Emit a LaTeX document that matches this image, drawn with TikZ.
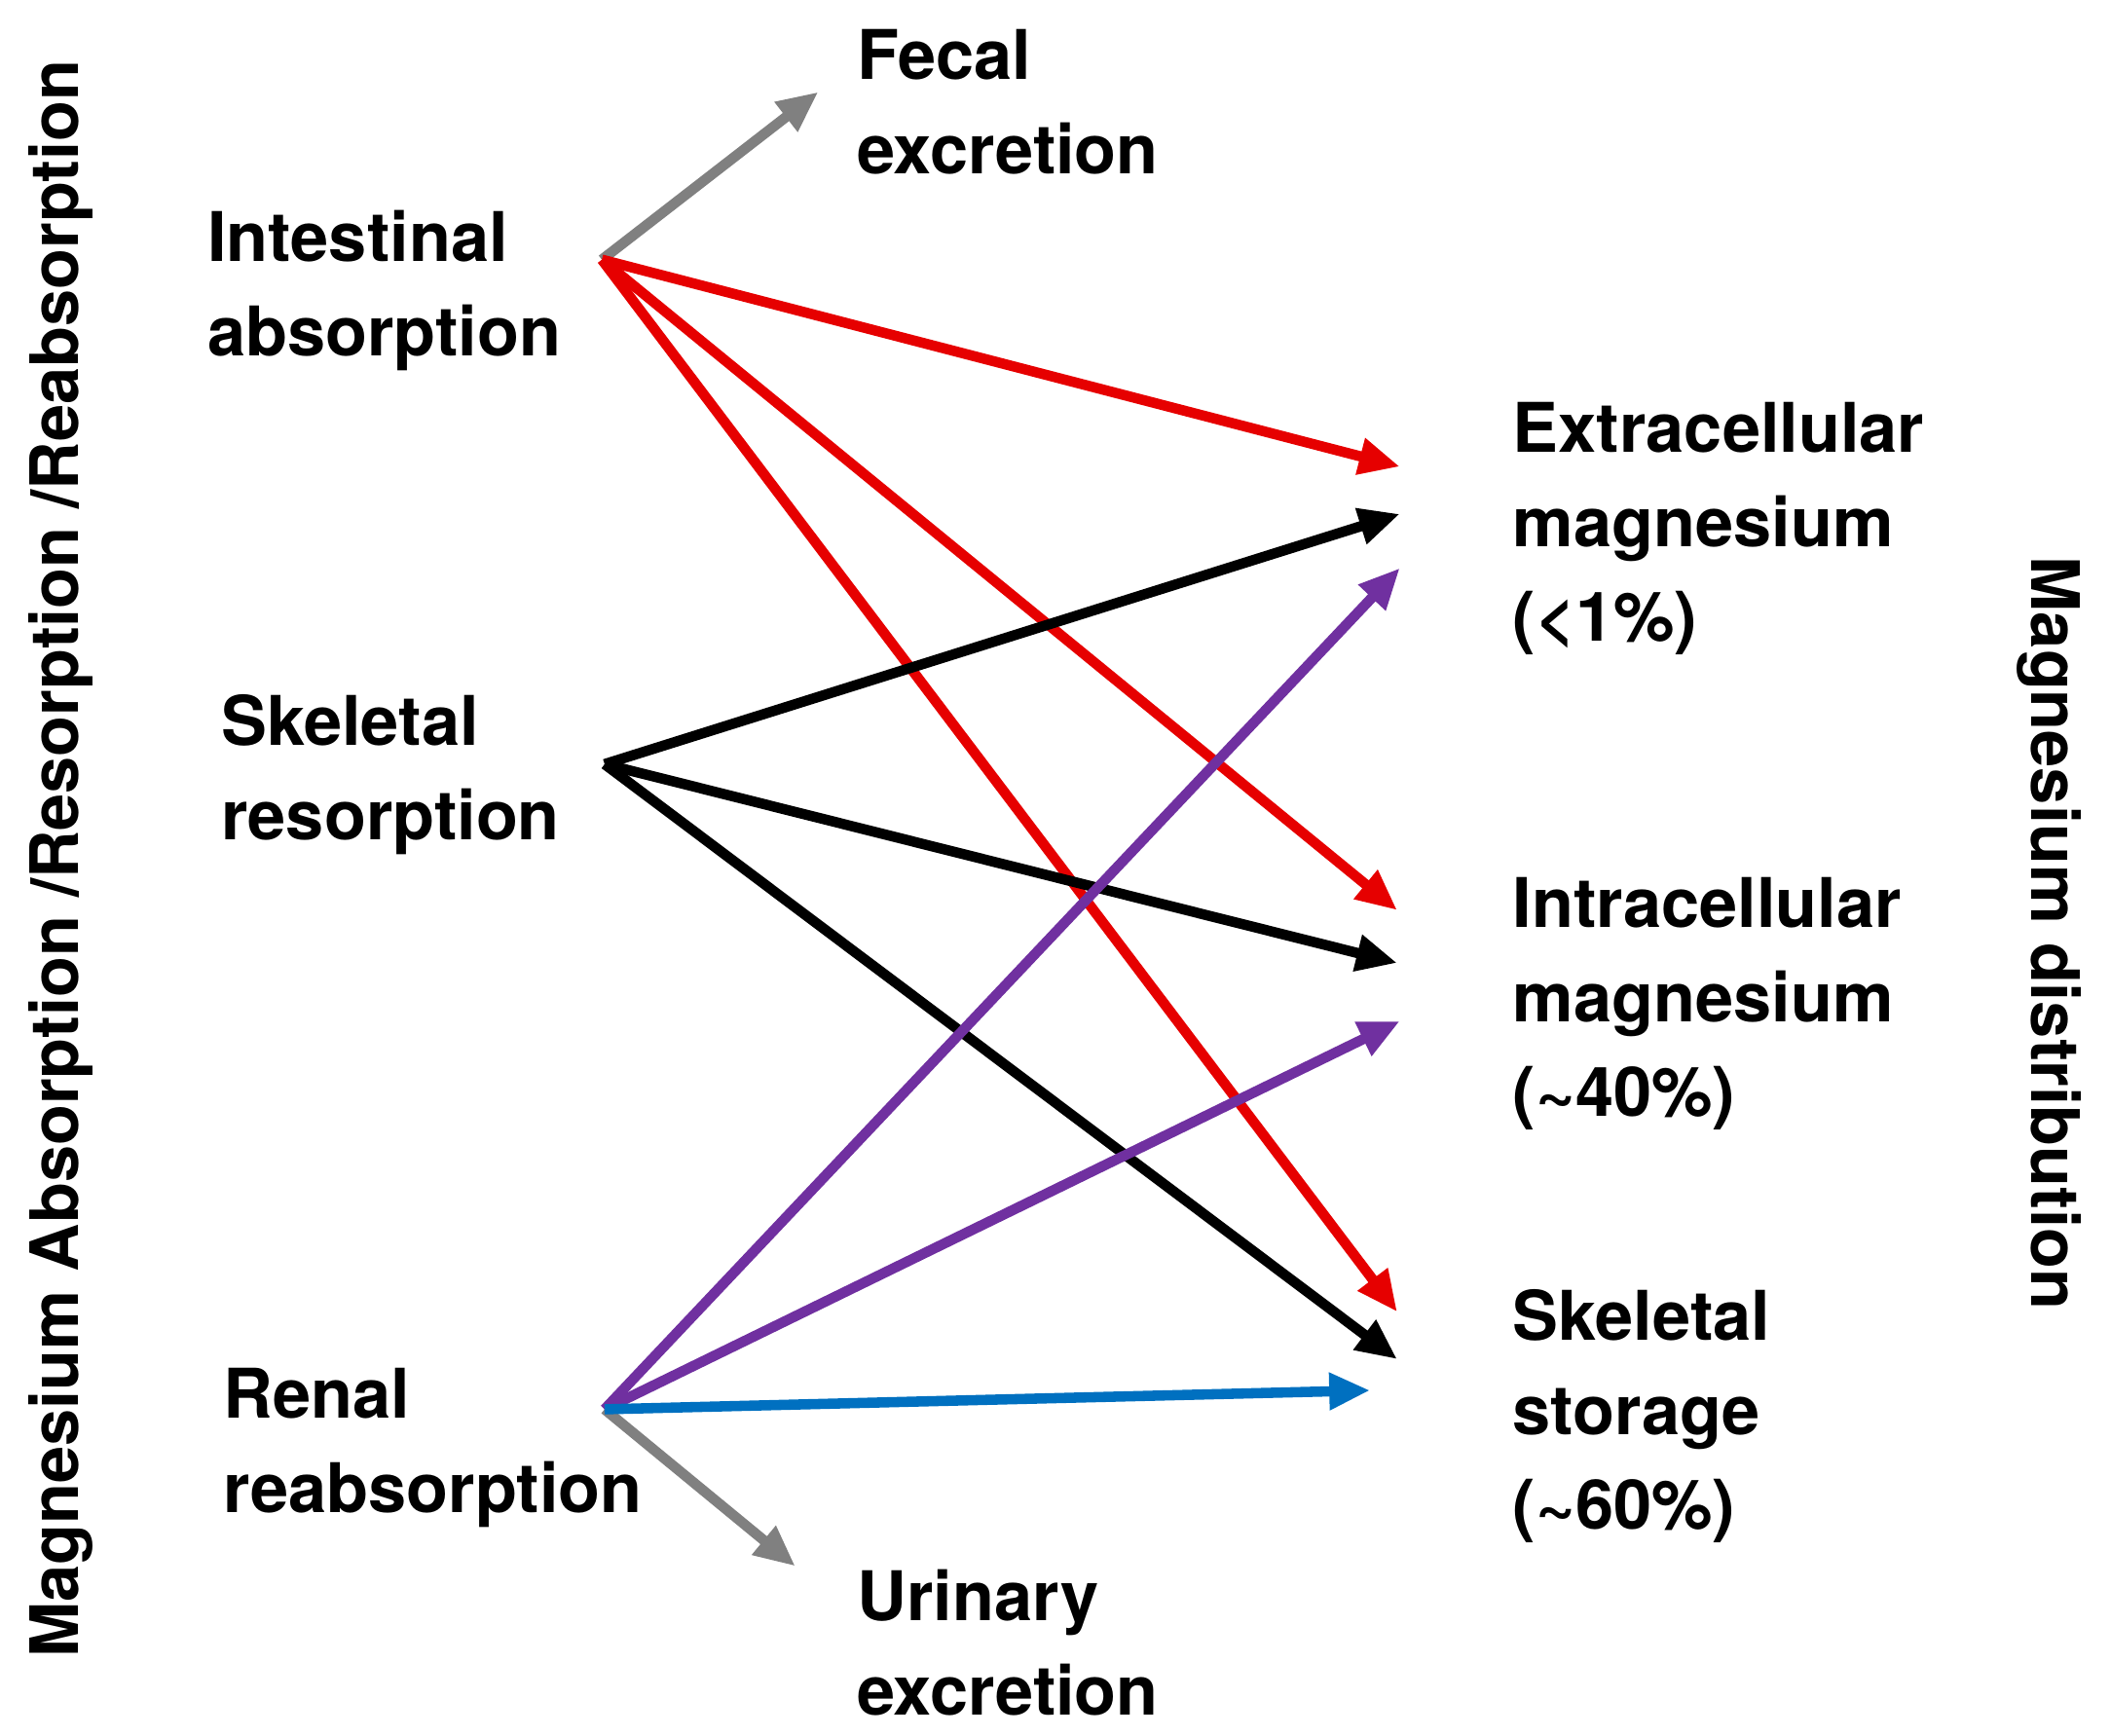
\documentclass[tikz,border=0pt]{standalone}
\usepackage{fontspec}
\setmainfont{TeX Gyre Heros}
\usetikzlibrary{arrows.meta}
\definecolor{myred}{RGB}{230,0,0}
\definecolor{mypurple}{RGB}{112,48,160}
\definecolor{myblue}{RGB}{0,112,192}
\definecolor{mygrey}{RGB}{128,128,128}
\begin{document}
\begin{tikzpicture}[x=0.01389cm,y=-0.01389cm,
 arr/.style={line width=3pt,-{Triangle[length=0.42cm,width=0.36cm]}},
 lbl/.style={anchor=north west,align=left,inner sep=0pt,font=\fontsize{20}{27.6}\selectfont\bfseries},
 rot/.style={inner sep=0pt,font=\fontsize{19.5}{24}\selectfont\bfseries}]
\useasboundingbox (0,0) rectangle (1560,1283);
\node[lbl] (tI) at (153,155) {Intestinal\\absorption};
\node[lbl] (tS) at (163,513) {Skeletal\\resorption};
\node[lbl] (tR) at (165,1011) {Renal\\reabsorption};
\node[lbl] (tF) at (633,21) {Fecal\\excretion};
\node[lbl] (tU) at (633,1160) {Urinary\\excretion};
\node[lbl] (tE) at (1118,297) {Extracellular\\magnesium\\(<1\%)};
\node[lbl] (tN) at (1118,648) {Intracellular\\magnesium\\(\textasciitilde40\%)};
\node[lbl] (tK) at (1118,953) {Skeletal\\storage\\(\textasciitilde60\%)};
\node[rot,rotate=90] (lL) at (45,635) {Magnesium Absorption /Resorption /Reabsorption};
\node[rot,rotate=-90] (lR) at (1515,690) {Magnesium distribution};
\coordinate (I) at (445,192);
\coordinate (S) at (447,565);
\coordinate (R) at (447,1042);
\coordinate (F) at (605,68);
\coordinate (U) at (588,1158);
\coordinate (Er) at (1035,345);
\coordinate (Nr) at (1033,673);
\coordinate (Kr) at (1033,970);
\coordinate (Eb) at (1035,380);
\coordinate (Nb) at (1033,712);
\coordinate (Kb) at (1033,1005);
\coordinate (Ep) at (1035,420);
\coordinate (Np) at (1035,755);
\coordinate (Kl) at (1013,1028);
\draw[arr,mygrey] (I) -- (F);
\draw[arr,mygrey] (R) -- (U);
\draw[arr,myred] (I) -- (Er);
\draw[arr,myred] (I) -- (Nr);
\draw[arr,myred] (I) -- (Kr);
\draw[arr,black] (S) -- (Eb);
\draw[arr,black] (S) -- (Nb);
\draw[arr,black] (S) -- (Kb);
\draw[arr,mypurple] (R) -- (Ep);
\draw[arr,mypurple] (R) -- (Np);
\draw[arr,myblue] (R) -- (Kl);
\end{tikzpicture}
\end{document}
